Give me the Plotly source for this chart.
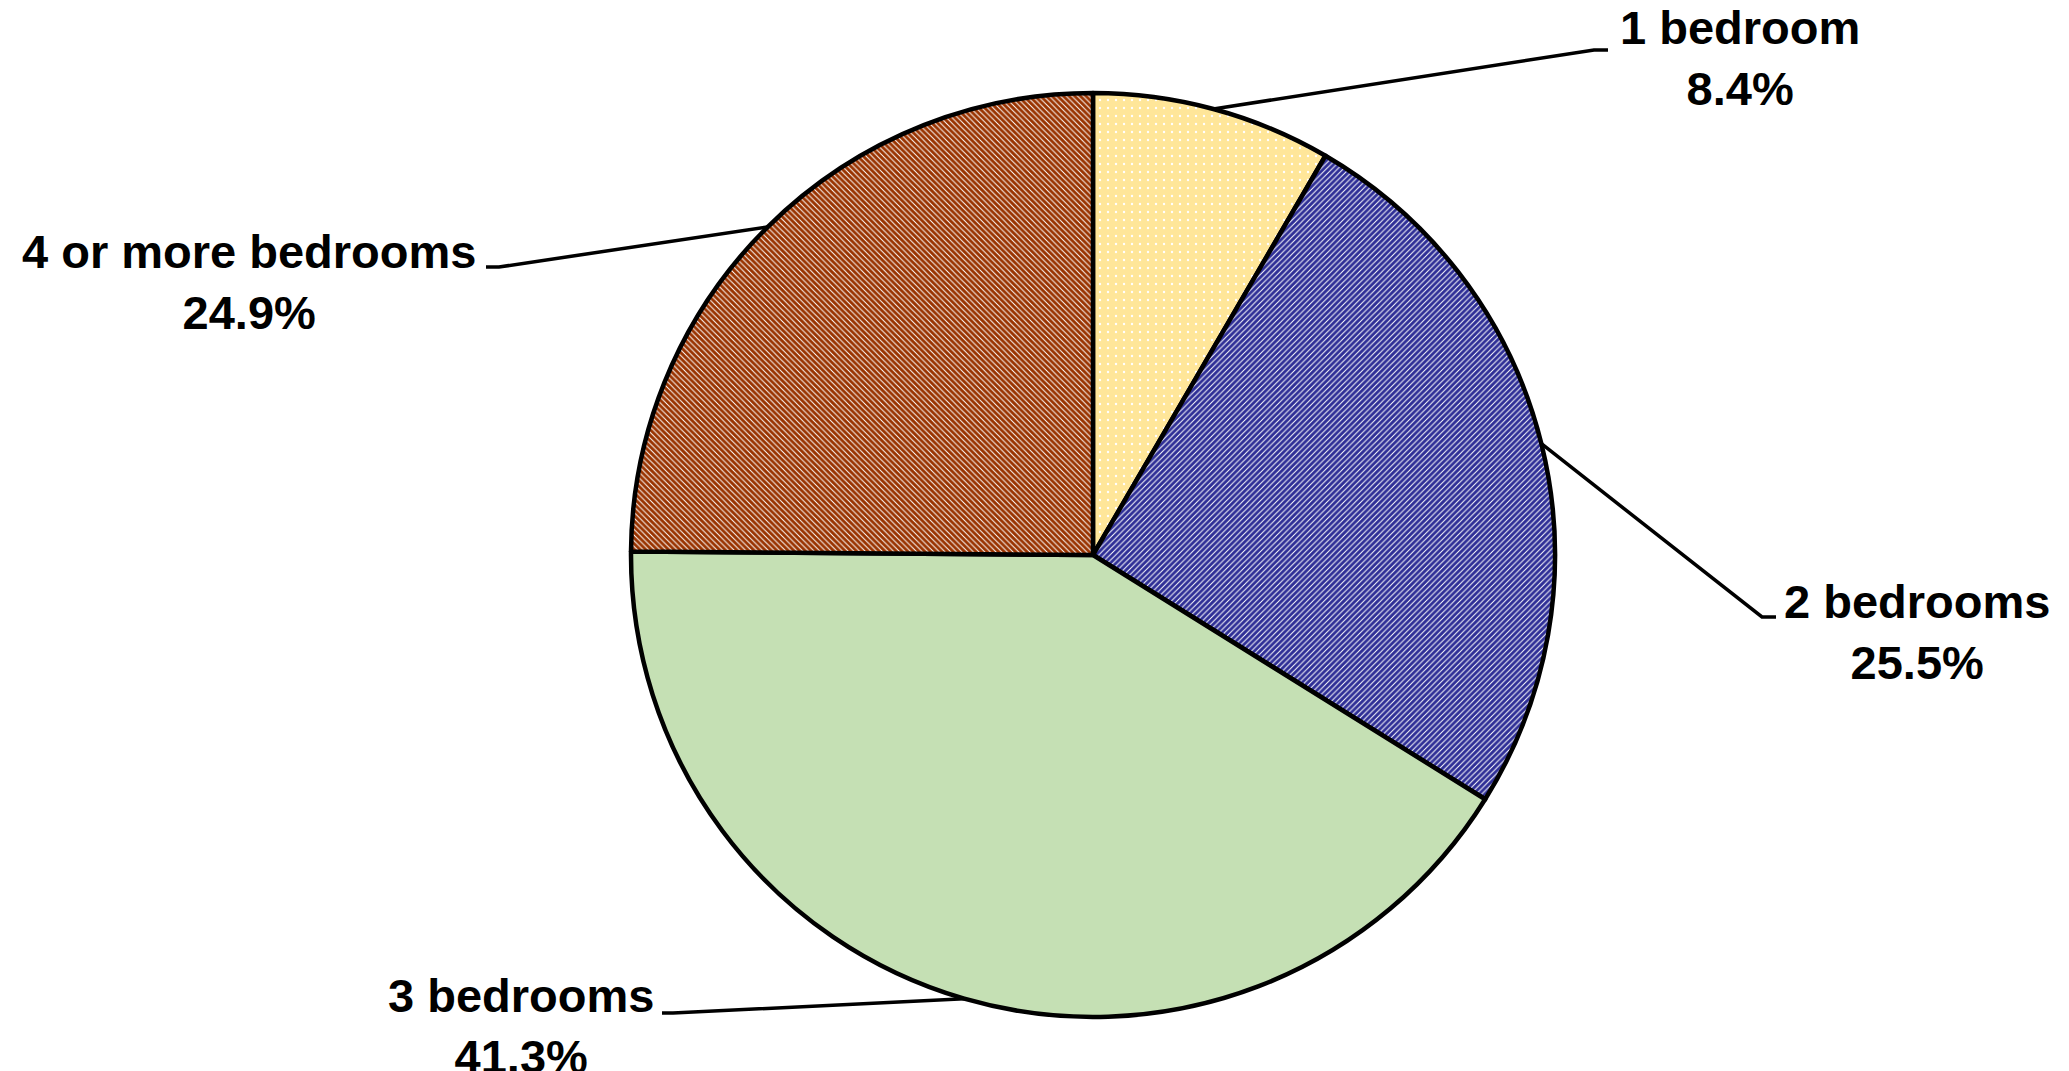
import math
import plotly.graph_objects as go

# ---------------------------------------------------------
# Data
# ---------------------------------------------------------

categories = ["1 bedroom", "2 bedrooms", "3 bedrooms", "4 or more bedrooms"]
shares = [8.4, 25.5, 41.3, 24.9]

W, H = 2069, 1071
# the page body has an 8px margin, so page pixels are shifted by it
OFF = 8
CX, CY, R = 1093 - OFF, 555 - OFF, 462

# label block centres and leader-line elbow points (page pixels)
label_pos = [(1740, 58), (1917, 632), (521, 1026), (249, 282)]
elbows = [((1594, 50), (1608, 50)),
          ((1762, 617), (1776, 617)),
          ((673, 1013), (662, 1013)),
          ((499, 267), (486, 267))]

fills = ["#FFE699", "#FFFFFF", "#C5E0B4", "#FFFFFF"]
pat_shape = [".", "/", "", "\\"]
pat_bg = ["#FFE699", "#FFFFFF", "#C5E0B4", "#FFFFFF"]
pat_fg = ["#FFFFFF", "#2E2E96", "#C5E0B4", "#993300"]
pat_size = [8, 4, 8, 4]
pat_solid = [0.07, 0.75, 0.3, 0.75]

fig = go.Figure(go.Pie(
    labels=categories,
    values=shares,
    sort=False,
    direction="clockwise",
    rotation=0,
    textinfo="none",
    hoverinfo="label+percent",
    marker=dict(
        colors=fills,
        pattern=dict(shape=pat_shape, bgcolor=pat_bg, fgcolor=pat_fg,
                     size=pat_size, solidity=pat_solid, fillmode="replace"),
        line=dict(color="#000000", width=4.5)),
    domain=dict(x=[(CX - R) / W, (CX + R) / W],
                y=[1 - (CY + R) / H, 1 - (CY - R) / H]),
    showlegend=False,
))


def px(x, y):
    return x / W, 1 - y / H


# leader lines from each slice's edge midpoint
total = sum(shares)
cum = 0
for i, v in enumerate(shares):
    mid = (cum + v / 2) / total * 2 * math.pi
    cum += v
    sx = CX + R * math.sin(mid)
    sy = CY - R * math.cos(mid)
    (ex, ey), (hx, hy) = elbows[i]
    x0, y0 = px(sx, sy)
    x1, y1 = px(ex - OFF, ey - OFF)
    x2, y2 = px(hx - OFF, hy - OFF)
    fig.add_shape(type="path", xref="paper", yref="paper",
                  path=f"M {x0} {y0} L {x1} {y1} L {x2} {y2}",
                  line=dict(color="#000000", width=3.5))
    lx, ly = px(label_pos[i][0] - OFF, label_pos[i][1] - OFF)
    fig.add_annotation(x=lx, y=ly, xref="paper", yref="paper",
                       text=f"<b>{categories[i]}</b><br><b>{v:.1f}%</b>",
                       showarrow=False, align="center",
                       xanchor="center", yanchor="middle", borderpad=0,
                       font=dict(family="Liberation Sans, Arial", size=47, color="#000000"))

fig.update_layout(
    width=W,
    height=H,
    margin=dict(l=0, r=0, t=0, b=0),
    paper_bgcolor="white",
    plot_bgcolor="white",
)

fig.write_html("out.html")
